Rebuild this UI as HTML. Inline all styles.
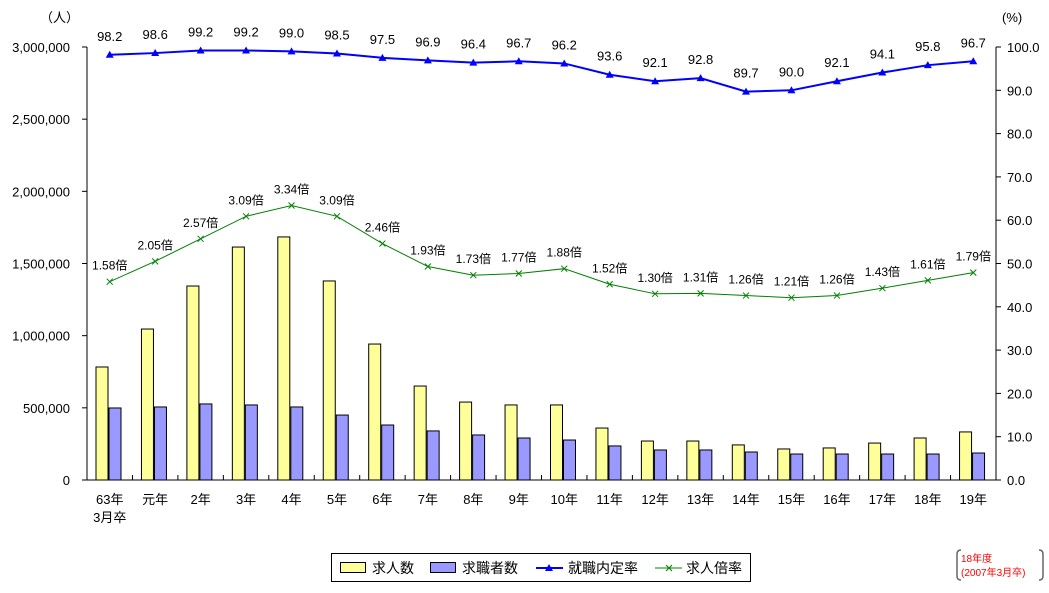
<!DOCTYPE html>
<html><head><meta charset="utf-8">
<style>
body{margin:0;background:#fff;}
svg text{font-family:"Liberation Sans","Noto Sans CJK JP",sans-serif;}
</style></head>
<body>
<svg id="chart" width="1049" height="588" xmlns="http://www.w3.org/2000/svg">
<rect width="1049" height="588" fill="#fff"/>
<g id="g"></g>
</svg>
<script>
const categories=["63年","元年","2年","3年","4年","5年","6年","7年","8年","9年","10年","11年","12年","13年","14年","15年","16年","17年","18年","19年"];
const jobOffers=[783000,1046000,1344000,1614000,1684000,1379000,942000,651000,540000,520000,520000,360000,270000,270000,243000,215000,222000,256000,291000,333000];
const jobSeekers=[499000,506000,527000,520000,506000,450000,381000,340000,312000,291000,277000,236000,208000,208000,194000,180000,180000,180000,180000,187000];
const placementRate=[98.2,98.6,99.2,99.2,99.0,98.5,97.5,96.9,96.4,96.7,96.2,93.6,92.1,92.8,89.7,90.0,92.1,94.1,95.8,96.7];
const offerRatio=[1.58,2.05,2.57,3.09,3.34,3.09,2.46,1.93,1.73,1.77,1.88,1.52,1.30,1.31,1.26,1.21,1.26,1.43,1.61,1.79];
const leftTicks=[0,500000,1000000,1500000,2000000,2500000,3000000];
const rightTicks=[0,10,20,30,40,50,60,70,80,90,100];

const NS="http://www.w3.org/2000/svg";
const g=document.getElementById('g');
const X0=87,X1=996,Y0=480,Y1=47,CW=(X1-X0)/categories.length;
const yL=v=>Y0-(v/3000000)*(Y0-Y1);
const yR=v=>Y0-(v/100)*(Y0-Y1);
const yRatio=v=>yR(v*10+30);
const xc=i=>X0+CW*(i+0.5);
function el(t,a,txt){const e=document.createElementNS(NS,t);for(const k in a)e.setAttribute(k,a[k]);if(txt!=null)e.textContent=txt;g.appendChild(e);return e;}

let e;
e=el('line',{x1:X0,y1:Y1,x2:X0,y2:Y0,stroke:'#000'});


e=el('line',{x1:X1,y1:Y1,x2:X1,y2:Y0,stroke:'#000'});


e=el('line',{x1:X0,y1:Y0,x2:X1,y2:Y0,stroke:'#000'});


leftTicks.forEach(v=>{
 el('line',{x1:X0-5,y1:yL(v),x2:X0,y2:yL(v),stroke:'#000'});
 e=el('text',{x:70,y:yL(v)+5,'text-anchor':'end','font-size':13},v.toLocaleString('en-US'));
 
 
});
rightTicks.forEach(v=>{
 el('line',{x1:X1,y1:yR(v),x2:X1+5,y2:yR(v),stroke:'#000'});
 e=el('text',{x:1007,y:yR(v)+5,'font-size':13},v.toFixed(1));
 
 
});
for(let i=1;i<categories.length;i++)el('line',{x1:X0+CW*i,y1:Y0-5,x2:X0+CW*i,y2:Y0,stroke:'#000'});
e=el('text',{x:40,y:22,'font-size':13},'（人）');


e=el('text',{x:1002,y:22,'font-size':13},'(%)');



categories.forEach((c,i)=>{
 const x=X0+CW*i;
 e=el('rect',{x:x+9,y:yL(jobOffers[i]),width:12,height:Y0-yL(jobOffers[i]),fill:'#ffff99',stroke:'#000'});
 
 
 e=el('rect',{x:x+22,y:yL(jobSeekers[i]),width:12,height:Y0-yL(jobSeekers[i]),fill:'#9999ff',stroke:'#000'});
 
 
 e=el('text',{x:xc(i),y:504,'text-anchor':'middle','font-size':13},c);
 
 
});
e=el('text',{x:xc(0),y:522,'text-anchor':'middle','font-size':13},'3月卒');



e=el('polyline',{points:placementRate.map((v,i)=>xc(i)+','+yR(v)).join(' '),fill:'none',stroke:'#0000ff','stroke-width':2});


placementRate.forEach((v,i)=>{
 const x=xc(i),y=yR(v);
 e=el('polygon',{points:`${x-4},${y+3} ${x+4},${y+3} ${x},${y-4}`,fill:'#0000ff'});
 
 
 e=el('text',{x:x,y:y-14,'text-anchor':'middle','font-size':13},v.toFixed(1));
 
 
});
e=el('polyline',{points:offerRatio.map((v,i)=>xc(i)+','+yRatio(v)).join(' '),fill:'none',stroke:'#008000','stroke-width':1});


offerRatio.forEach((v,i)=>{
 const x=xc(i),y=yRatio(v);
 e=el('path',{d:`M${x-3},${y-3}L${x+3},${y+3}M${x-3},${y+3}L${x+3},${y-3}`,stroke:'#008000'});
 
 
 e=el('text',{x:x,y:y-12,'text-anchor':'middle','font-size':12},v.toFixed(2)+'倍');
 
 
});

e=el('rect',{x:331.5,y:553.5,width:419,height:28,fill:'#fff',stroke:'#000'});


el('rect',{x:340.5,y:562.5,width:25,height:10,fill:'#ffff99',stroke:'#000'});
e=el('text',{x:372,y:573,'font-size':14},'求人数');


el('rect',{x:430.5,y:562.5,width:25,height:10,fill:'#9999ff',stroke:'#000'});
e=el('text',{x:462,y:573,'font-size':14},'求職者数');


el('line',{x1:536,y1:568,x2:563,y2:568,stroke:'#0000ff','stroke-width':2});
el('polygon',{points:'545,571 553,571 549,564',fill:'#0000ff'});
e=el('text',{x:568,y:573,'font-size':14},'就職内定率');


el('line',{x1:655,y1:568,x2:682,y2:568,stroke:'#008000'});
el('path',{d:'M666,565L672,571M666,571L672,565',stroke:'#008000'});
e=el('text',{x:686,y:573,'font-size':14},'求人倍率');



el('path',{d:'M961,550Q957,550 957,554L957,576Q957,580 961,580',fill:'none',stroke:'#666','stroke-width':1.5});
el('path',{d:'M1039,550Q1043,550 1043,554L1043,576Q1043,580 1039,580',fill:'none',stroke:'#666','stroke-width':1.5});
e=el('text',{x:961,y:562,'font-size':10,fill:'#ff0000'},'18年度');


e=el('text',{x:961,y:576,'font-size':10,fill:'#ff0000'},'(2007年3月卒)');


</script>
</body></html>
